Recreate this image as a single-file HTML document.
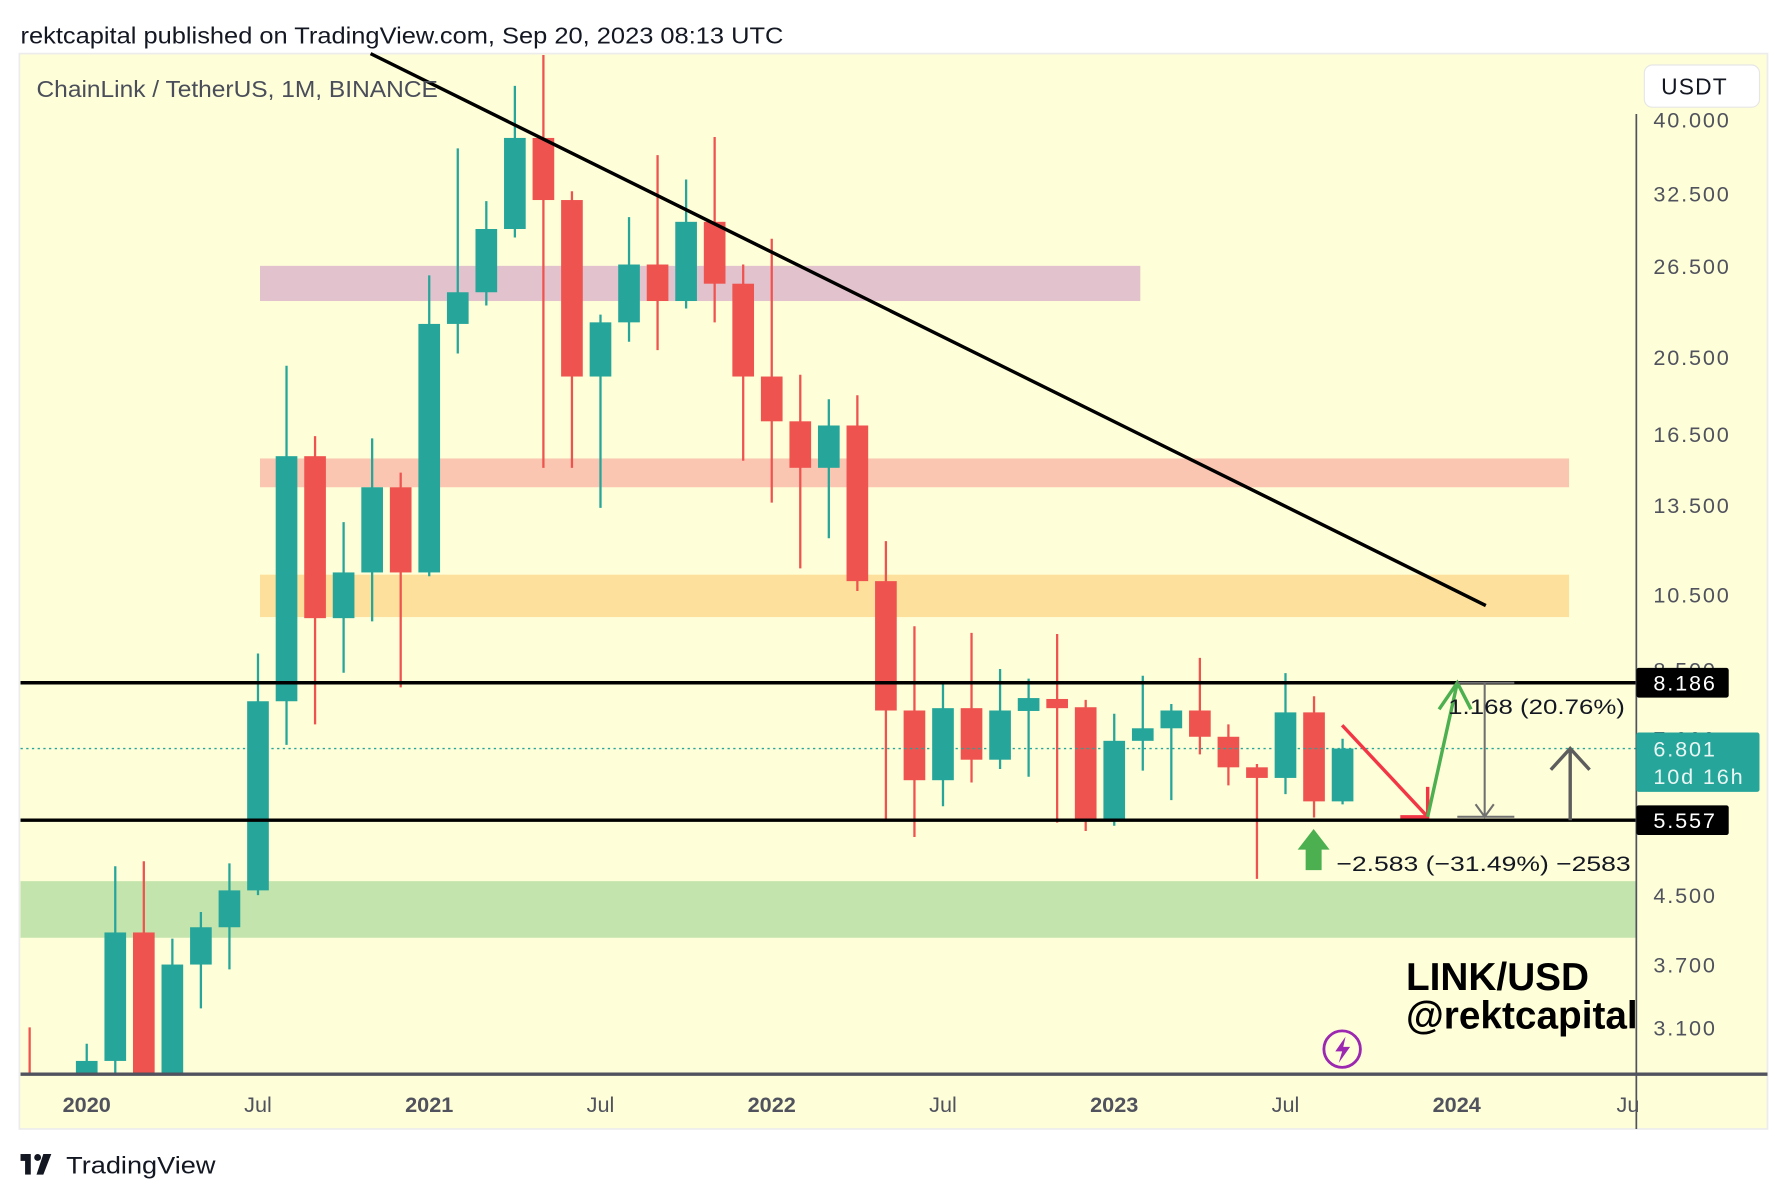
<!DOCTYPE html>
<html><head><meta charset="utf-8"><style>
html,body{margin:0;padding:0;background:#fff;width:1788px;height:1200px;overflow:hidden;}
svg{display:block;font-family:"Liberation Sans",sans-serif;}
</style></head><body>
<svg id="chart" width="1788" height="1200" viewBox="0 0 1568 1052.3" preserveAspectRatio="none" xmlns="http://www.w3.org/2000/svg">
<text x="18" y="38" font-size="20" fill="#131722" textLength="669" lengthAdjust="spacingAndGlyphs">rektcapital published on TradingView.com, Sep 20, 2023 08:13 UTC</text>
<rect x="17" y="47" width="1533" height="943" fill="#fefed8" stroke="#ececec" stroke-width="1.5"/>
<g id="zones"></g>
<g id="candles"></g>
<g id="overlay"></g>
<text x="32" y="85" font-size="20" fill="#4a4e5a" textLength="352" lengthAdjust="spacingAndGlyphs">ChainLink / TetherUS, 1M, BINANCE</text>
<g id="yaxis"></g>
<g id="xaxis"></g>
<rect x="1442" y="57" width="101" height="37" rx="7" fill="#fff" stroke="#e6e6e6"/>
<text x="1486" y="83" font-size="20" fill="#131722" text-anchor="middle" letter-spacing="1">USDT</text>
<g>
<rect x="18" y="1012" width="8" height="6" fill="#131722"/><rect x="22" y="1012" width="5" height="18" fill="#131722"/>
<circle cx="33" cy="1015" r="3" fill="#131722"/><polygon points="38,1012 45,1012 38,1030 32,1030" fill="#131722"/>
<text x="58" y="1029" font-size="21" fill="#131722" textLength="131" lengthAdjust="spacingAndGlyphs">TradingView</text>
</g>
</svg>
<script>
const months = ["2019-11","2019-12","2020-01","2020-02","2020-03","2020-04","2020-05","2020-06","2020-07","2020-08","2020-09","2020-10","2020-11","2020-12","2021-01","2021-02","2021-03","2021-04","2021-05","2021-06","2021-07","2021-08","2021-09","2021-10","2021-11","2021-12","2022-01","2022-02","2022-03","2022-04","2022-05","2022-06","2022-07","2022-08","2022-09","2022-10","2022-11","2022-12","2023-01","2023-02","2023-03","2023-04","2023-05","2023-06","2023-07","2023-08","2023-09"];
const opens  = [2.5,1.8,1.8,2.82,4.05,1.9,3.70,4.11,4.56,7.77,15.5,9.82,11.17,14.2,11.17,22.5,24.6,29.4,38.0,31.9,19.4,22.6,26.6,24.0,30.0,25.2,19.4,17.1,15.0,16.9,10.9,7.57,6.22,7.62,6.59,7.56,7.82,7.64,5.56,6.95,7.20,7.57,7.03,6.45,6.26,7.53,5.86];
const closes = [1.8,1.8,2.82,4.05,1.9,3.70,4.11,4.56,7.77,15.5,9.82,11.17,14.2,11.17,22.5,24.6,29.4,38.0,31.9,19.4,22.6,26.6,24.0,30.0,25.2,19.4,17.1,15.0,16.9,10.9,7.57,6.22,7.62,6.59,7.57,7.84,7.62,5.56,6.95,7.20,7.57,7.03,6.45,6.26,7.53,5.86,6.80];
const highs  = [3.1,2.1,2.96,4.88,4.95,3.98,4.29,4.92,8.89,20.0,16.4,12.87,16.3,14.8,25.8,36.9,31.8,44.0,48.0,32.7,23.1,30.4,36.2,33.8,38.1,26.6,28.6,19.5,18.2,18.4,12.2,9.6,8.18,9.42,8.51,8.28,9.39,7.8,7.50,8.35,7.71,8.78,7.28,6.51,8.41,7.88,6.99];
const lows   = [1.7,1.6,1.7,2.7,1.7,1.85,3.27,3.65,4.5,6.87,7.28,8.42,9.73,8.08,11.05,20.7,23.7,28.7,15.0,15.0,13.4,21.4,20.9,23.5,22.6,15.3,13.6,11.3,12.3,10.6,5.58,5.30,5.78,6.18,6.42,6.28,5.52,5.39,5.47,6.39,5.88,6.69,6.13,4.71,5.98,5.60,5.81];
const priceTicks = ["40.000","32.500","26.500","20.500","16.500","13.500","10.500","8.500","7.000","4.500","3.700","3.100"];
const dateLabels = ["2020","Jul","2021","Jul","2022","Jul","2023","Jul","2024","Ju"];
const keyLevels = [8.186, 5.557];
const lastPrice = 6.801;

const NS = "http://www.w3.org/2000/svg";
const PLOT = {left:18, right:1435, top:47, bottom:942};
function xScale(i){ return 26 + i*25.03; }
function yScale(p){ return 105 + (Math.log(40) - Math.log(p)) * 311.2; }
function mk(tag, attrs, parent){
  const e = document.createElementNS(NS, tag);
  for (const k in attrs) e.setAttribute(k, attrs[k]);
  parent.appendChild(e); return e;
}
const svg = document.getElementById('chart');
const defs = mk('defs', {}, svg);
const cp = mk('clipPath', {id:'plotclip'}, defs);
mk('rect', {x:PLOT.left, y:PLOT.top, width:PLOT.right-PLOT.left, height:PLOT.bottom-PLOT.top}, cp);

const zg = document.getElementById('zones');
const zones = [[228,1000,26.5,24.0,'#e2c3cd','resistance-zone-purple'],[228,1376,15.4,14.2,'#fac6b1','resistance-zone-salmon'],[228,1376,11.1,9.85,'#fde09b','resistance-zone-orange'],[18,1435,4.68,3.99,'#c4e4ad','support-zone-green']];
zones.forEach(z=>{
  const r = mk('rect', {x:z[0], y:yScale(z[2]), width:z[1]-z[0], height:yScale(z[3])-yScale(z[2]), fill:z[4]}, zg);
  
  
});

const cg = document.getElementById('candles');
cg.setAttribute('clip-path','url(#plotclip)');
months.forEach((m,i)=>{
  const up = closes[i] >= opens[i];
  const col = up ? '#26a69a' : '#ef5350';
  const x = xScale(i);
  const g = mk('g', {}, cg);
  
  
  mk('line', {x1:x, x2:x, y1:yScale(highs[i]), y2:yScale(lows[i]), stroke:col, 'stroke-width':2}, g);
  const yt = yScale(Math.max(opens[i],closes[i])), yb = yScale(Math.min(opens[i],closes[i]));
  mk('rect', {x:x-9.5, y:yt, width:19, height:Math.max(1.5, yb-yt), fill:col}, g);
});

const og = document.getElementById('overlay');
let e;
e = mk('line', {x1:325, y1:47, x2:1303, y2:531, stroke:'#000', 'stroke-width':3}, og);


keyLevels.forEach((lv,k)=>{
  const l = mk('line', {x1:PLOT.left, x2:PLOT.right, y1:yScale(lv), y2:yScale(lv), stroke:'#000', 'stroke-width':3}, og);
  
  
});
e = mk('line', {x1:PLOT.left, x2:PLOT.right, y1:yScale(lastPrice), y2:yScale(lastPrice), stroke:'#26a69a', 'stroke-width':1.2, 'stroke-dasharray':'2,3'}, og);


const yHi = yScale(keyLevels[0]), yLo = yScale(keyLevels[1]);
e = mk('path', {d:`M1177 636 L1252 ${yLo-3} M1228 ${yLo-3} L1252 ${yLo-3} L1252 690`, stroke:'#f23645', 'stroke-width':3, fill:'none'}, og);


e = mk('path', {d:`M1252 ${yLo-3} L1278 ${yHi} M1262 622 L1278 ${yHi} L1290 622`, stroke:'#4caf50', 'stroke-width':3, fill:'none'}, og);


e = mk('path', {d:`M1278 ${yHi} H1328 M1278 ${yLo-3} H1328 M1302 ${yHi} V${yLo-3} M1294 ${yLo-14} L1302 ${yLo-3} L1310 ${yLo-14}`, stroke:'#707070', 'stroke-width':1.8, fill:'none'}, og);


e = mk('text', {x:1270, y:626, 'font-size':19, fill:'#131722', textLength:155, lengthAdjust:'spacingAndGlyphs'}, og);
e.textContent = '1.168 (20.76%)';


e = mk('path', {d:`M1377 ${yLo} V${yScale(lastPrice)} M1360 675 L1377 ${yScale(lastPrice)} L1394 675`, stroke:'#5d5d5d', 'stroke-width':3, fill:'none'}, og);


e = mk('path', {d:'M1145 745 H1138 L1152 727 L1166 745 H1159 V763 H1145 Z', fill:'#4caf50'}, og);


e = mk('text', {x:1172, y:764, 'font-size':19, fill:'#131722', textLength:258, lengthAdjust:'spacingAndGlyphs'}, og);
e.textContent = '\u22122.583 (\u221231.49%) \u22122583';


const wm = mk('g', {'clip-path':'url(#plotclip)'}, og);
e = mk('text', {x:1233, y:868, 'font-size':34, 'font-weight':'bold', fill:'#000'}, wm);
e.textContent = 'LINK/USD';


e = mk('text', {x:1233, y:902, 'font-size':34, 'font-weight':'bold', fill:'#000'}, wm);
e.textContent = '@rektcapital';


e = mk('g', {}, og);


mk('circle', {cx:1177, cy:920, r:16, fill:'none', stroke:'#9c27b0', 'stroke-width':2.5}, e);
mk('path', {d:'M1180 909 L1171 922 L1177 922 L1174 932 L1184 918 L1178 918 Z', fill:'#9c27b0'}, e);

const ya = document.getElementById('yaxis');
e = mk('line', {x1:1435, x2:1435, y1:100, y2:990, stroke:'#50535e', 'stroke-width':1.5}, ya);


priceTicks.forEach(t=>{
  const v = parseFloat(t);
  const tx = mk('text', {x:1450, y:yScale(v)+7, 'font-size':19, fill:'#50535e', 'letter-spacing':1.6}, ya);
  tx.textContent = t;
  
  
});
keyLevels.forEach(lv=>{
  const g = mk('g', {}, ya);
  
  
  mk('rect', {x:1435, y:yScale(lv)-13, width:81, height:26, rx:2, fill:'#000'}, g);
  const tx = mk('text', {x:1450, y:yScale(lv)+7, 'font-size':19, fill:'#fff', 'letter-spacing':1.6}, g);
  tx.textContent = lv.toFixed(3);
});
e = mk('g', {}, ya);


mk('rect', {x:1435, y:yScale(lastPrice)-14, width:108, height:52, rx:2, fill:'#26a69a'}, e);
let tt = mk('text', {x:1450, y:yScale(lastPrice)+7, 'font-size':19, fill:'#e8f5f3', 'letter-spacing':1.6}, e); tt.textContent = lastPrice.toFixed(3);
tt = mk('text', {x:1450, y:yScale(lastPrice)+31, 'font-size':19, fill:'#e8f5f3', 'letter-spacing':1.6}, e); tt.textContent = '10d 16h';

const xa = document.getElementById('xaxis');
e = mk('line', {x1:18, x2:1550, y1:942, y2:942, stroke:'#50535e', 'stroke-width':3}, xa);


dateLabels.forEach((d,k)=>{
  const x = xScale(2 + k*6);
  const isYear = /^\d{4}$/.test(d);
  const tx = mk('text', {x:x, y:975, 'font-size':19, 'font-weight':isYear?'bold':'normal', fill:'#50535e', 'text-anchor':'middle'}, xa);
  tx.textContent = d;
  
  
});
</script>
</body></html>
